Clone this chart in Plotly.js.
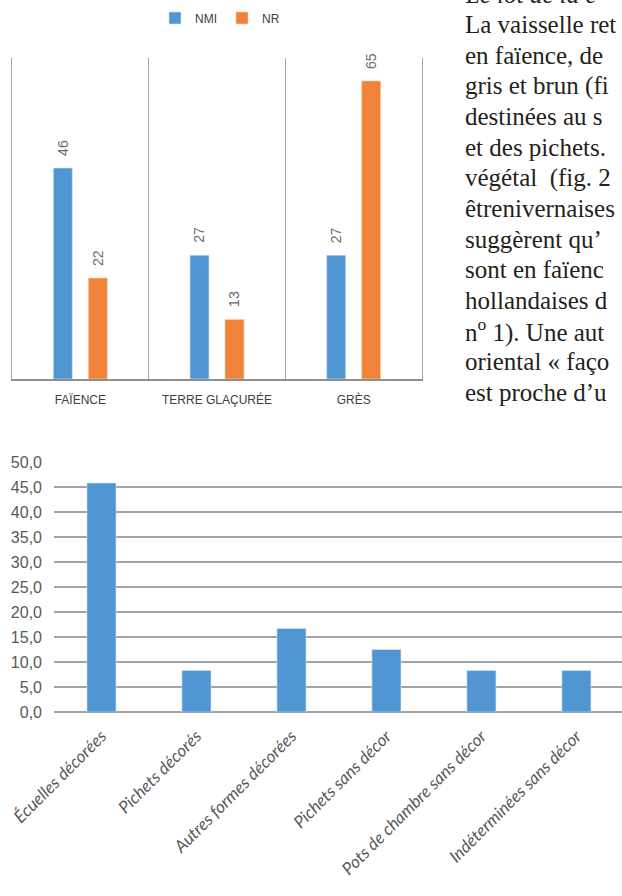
<!DOCTYPE html>
<html>
<head>
<meta charset="utf-8">
<script src="https://cdn.plot.ly/plotly-3.0.1.min.js"></script>
<style>
  html, body { margin: 0; padding: 0; background: #ffffff; }
  #chart { width: 622px; height: 896px; }
</style>
</head>
<body>
<div id="chart"></div>
<script>
// ---- Data (top chart: counts per material) ----
const materials = ['FAÏENCE', 'TERRE GLAÇURÉE', 'GRÈS'];
const nmiValues = [46, 27, 27];
const nrValues = [22, 13, 65];
const seriesNames = ['NMI', 'NR'];

// ---- Data (bottom chart: % of faience forms) ----
const forms = ['Écuelles décorées', 'Pichets décorés', 'Autres formes décorées',
               'Pichets sans décor', 'Pots de chambre sans décor', 'Indéterminées sans décor'];
const formPercent = [45.8, 8.3, 16.7, 12.5, 8.3, 8.3];
const percentTicks = [0, 5, 10, 15, 20, 25, 30, 35, 40, 45, 50];

// ---- Body text visible at the right of the page ----
const introLine = '<i>Le lot de la c</i>';
const bodyLines = [
  'La vaisselle ret',
  'en faïence, de',
  'gris et brun (fi',
  'destinées au s',
  'et des pichets.',
  'végétal  (fig. 2',
  'êtrenivernaises',
  'suggèrent qu’',
  'sont en faïenc',
  'hollandaises d',
  'n<sup>o</sup> 1). Une aut',
  'oriental « faço',
  'est proche d’u'
];

// ---- Layout helpers (pixel geometry of the page) ----
const W = 622, H = 896;
const px = v => v / W;
const py = v => 1 - v / H;

const SANS = 'Liberation Sans, Arial, sans-serif';
const BLUE = '#5096d2';
const ORANGE = '#f0833a';

const topCatPx = (422 - 12) / 3;          // px per category in top chart
const barW = 19 / topCatPx;
const nmiOff = -27 / topCatPx;
const nrOff = 8 / topCatPx;

const traces = [
  {
    type: 'bar', name: seriesNames[0], x: materials, y: nmiValues,
    xaxis: 'x', yaxis: 'y', width: barW, offset: nmiOff,
    marker: { color: BLUE, line: { color: '#d7e6f4', width: 0.6 } },
    hoverinfo: 'none'
  },
  {
    type: 'bar', name: seriesNames[1], x: materials, y: nrValues,
    xaxis: 'x', yaxis: 'y', width: barW, offset: nrOff,
    marker: { color: ORANGE, line: { color: '#f8d3b8', width: 0.6 } },
    hoverinfo: 'none'
  },
  {
    type: 'bar', name: '%', x: forms, y: formPercent,
    xaxis: 'x2', yaxis: 'y2', showlegend: false,
    marker: { color: BLUE, line: { color: '#d7e6f4', width: 0.6 } },
    hoverinfo: 'none'
  }
];

const annotations = [];
// value labels of top chart (rotated, above each bar)
const nmiShift = (nmiOff + barW / 2) * topCatPx;
const nrShift = (nrOff + barW / 2) * topCatPx;
const valFont = { family: SANS, size: 14, color: '#6b6b6b' };
materials.forEach((m, i) => {
  annotations.push({
    xref: 'x', yref: 'y', x: m, y: nmiValues[i], text: String(nmiValues[i]),
    showarrow: false, textangle: -90, xanchor: 'center', yanchor: 'bottom',
    xshift: nmiShift, yshift: 10, font: valFont
  });
  annotations.push({
    xref: 'x', yref: 'y', x: m, y: nrValues[i], text: String(nrValues[i]),
    showarrow: false, textangle: -90, xanchor: 'center', yanchor: 'bottom',
    xshift: nrShift, yshift: 10, font: valFont
  });
});

// body text lines
const TEXT_FS = 25;
const firstBaseline = 33, lineStep = 30.6;
const textFont = { family: 'Liberation Serif, Times New Roman, serif', size: TEXT_FS, color: '#231f20' };
annotations.push({
  xref: 'paper', yref: 'paper', x: px(463), y: py(firstBaseline - lineStep - 0.32 * TEXT_FS),
  xanchor: 'left', yanchor: 'middle', showarrow: false, text: introLine, font: textFont
});
bodyLines.forEach((t, i) => {
  annotations.push({
    xref: 'paper', yref: 'paper', x: px(463),
    y: py(firstBaseline + i * lineStep - 0.32 * TEXT_FS),
    xanchor: 'left', yanchor: 'middle', showarrow: false, text: t, font: textFont
  });
});

const layout = {
  width: W, height: H,
  margin: { l: 0, r: 0, t: 0, b: 0, pad: 0 },
  paper_bgcolor: '#ffffff', plot_bgcolor: 'rgba(0,0,0,0)',
  separators: ', ',
  barmode: 'overlay',
  bargap: 0.694,
  showlegend: true,
  legend: {
    orientation: 'h', x: px(220), xanchor: 'center', y: py(18), yanchor: 'middle',
    font: { family: SANS, size: 12, color: '#404040' },
    bgcolor: 'rgba(0,0,0,0)', itemwidth: 30, traceorder: 'normal'
  },
  xaxis: {
    domain: [px(12), px(422)], anchor: 'y', type: 'category', range: [-0.5, 2.5],
    showline: true, linecolor: '#8f8f8f', linewidth: 1.6,
    showgrid: true, tickson: 'boundaries', gridcolor: '#a8a8a8', gridwidth: 1.2,
    ticks: '', ticklabelstandoff: 9,
    tickfont: { family: SANS, size: 12, color: '#404040' },
    fixedrange: true
  },
  yaxis: {
    domain: [py(379), py(58)], anchor: 'x', range: [0, 70],
    showline: true, mirror: true, linecolor: '#a8a8a8', linewidth: 1.2,
    showgrid: false, zeroline: false, showticklabels: false, ticks: '',
    fixedrange: true
  },
  xaxis2: {
    domain: [px(54), 1], anchor: 'y2', type: 'category', range: [-0.5, 5.48],
    showline: false, showgrid: false, ticks: '', tickangle: -45,
    ticklabelstandoff: 10,
    tickfont: { family: 'Lato, Open Sans, sans-serif', size: 17, color: '#595959', style: 'italic' },
    fixedrange: true
  },
  yaxis2: {
    domain: [py(712), py(462)], anchor: 'x2', range: [0, 50],
    tickvals: percentTicks, tickformat: '.1f',
    showgrid: true, gridcolor: '#a3a3a3', gridwidth: 1.3,
    zeroline: true, zerolinecolor: '#a3a3a3', zerolinewidth: 1.3,
    showline: false, ticks: '', ticklabelstandoff: 11,
    tickfont: { family: SANS, size: 16, color: '#595959' },
    fixedrange: true
  },
  annotations: annotations
};

Plotly.newPlot('chart', traces, layout, { staticPlot: true, displayModeBar: false });
</script>
</body>
</html>
